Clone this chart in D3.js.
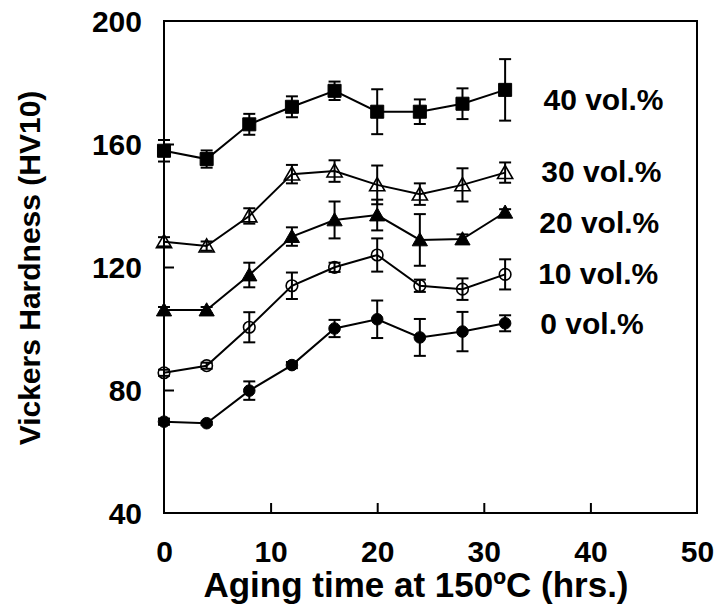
<!DOCTYPE html>
<html>
<head>
<meta charset="utf-8">
<script src="https://cdn.jsdelivr.net/npm/d3@7/dist/d3.min.js"></script>
<style>
  body { margin: 0; background: #fff; }
  text { font-family: "Liberation Sans", Arial, sans-serif; font-weight: bold; fill: #000; }
</style>
</head>
<body>
<div id="chart"></div>
<script>
// aging time (hrs.)
var times = [0, 4, 8, 12, 16, 20, 24, 28, 32];

// hardness values (HV10) per SiC content
var hv0  = [69.7, 69.2, 79.8, 88.1, 100, 103, 97.1, 99, 101.7];
var hv10 = [85.6, 87.9, 100.4, 113.9, 119.9, 123.9, 113.9, 112.8, 117.6];
var hv20 = [106, 106, 117.4, 129.9, 135.3, 136.9, 128.8, 129.1, 137.8];
var hv30 = [128.2, 126.8, 136.6, 150.2, 151.2, 146.7, 143.7, 146.7, 150.7];
var hv40 = [157.8, 155.1, 166.4, 172.1, 177.3, 170.5, 170.5, 173.1, 177.6];

// error bars (+/-)
var err0  = [1, 0.5, 3, 1, 2.8, 6.1, 6, 6.4, 2.6];
var err10 = [1, 1, 4.9, 4.3, 1.5, 5.4, 2, 3.5, 4.9];
var err20 = [1, 1, 4, 3, 6, 5, 8.4, 1.5, 1];
var err30 = [1.5, 1.5, 2.5, 3, 3.5, 6.3, 3.5, 5.4, 3.3];
var err40 = [3.5, 2.8, 3.4, 3.4, 3, 7.3, 4, 5, 10];

var seriesNames = ["0 vol.%", "10 vol.%", "20 vol.%", "30 vol.%", "40 vol.%"];
var xTicks = [0, 10, 20, 30, 40, 50];
var yTicks = [40, 80, 120, 160, 200];

var series = [
  {name: seriesNames[0], vals: hv0,  err: err0,  shape: "circle",   filled: true,  labelX: 35.3, labelY: 101.5},
  {name: seriesNames[1], vals: hv10, err: err10, shape: "circle",   filled: false, labelX: 35.1, labelY: 118},
  {name: seriesNames[2], vals: hv20, err: err20, shape: "triangle", filled: true,  labelX: 35.2, labelY: 134.5},
  {name: seriesNames[3], vals: hv30, err: err30, shape: "triangle", filled: false, labelX: 35.4, labelY: 151},
  {name: seriesNames[4], vals: hv40, err: err40, shape: "square",   filled: true,  labelX: 35.6, labelY: 174.5}
];

var W = 718, H = 607;
var margin = {top: 21, right: 21, bottom: 94, left: 164};
var width = W - margin.left - margin.right,
    height = H - margin.top - margin.bottom;

var svg = d3.select("#chart").append("svg")
    .attr("width", W)
    .attr("height", H);

var g = svg.append("g")
    .attr("transform", "translate(" + margin.left + "," + margin.top + ")");

var x = d3.scaleLinear().domain([0, 50]).range([0, width]);
var y = d3.scaleLinear().domain([40, 200]).range([height, 0]);

// frame
g.append("rect")
    .attr("width", width)
    .attr("height", height)
    .attr("fill", "none")
    .attr("stroke", "#000")
    .attr("stroke-width", 2);

// axes with inward ticks
var xAxis = g.append("g")
    .attr("transform", "translate(0," + height + ")")
    .call(d3.axisBottom(x).tickValues(xTicks).tickSizeInner(-10).tickSizeOuter(0).tickPadding(28));
var yAxis = g.append("g")
    .call(d3.axisLeft(y).tickValues(yTicks).tickSizeInner(-10).tickSizeOuter(0).tickPadding(22));

[xAxis, yAxis].forEach(function (a) {
    a.select(".domain").remove();
    a.selectAll("line").attr("stroke", "#000").attr("stroke-width", 2);
    a.selectAll("text")
        .style("font-family", "'Liberation Sans', Arial, sans-serif")
        .style("font-weight", "bold")
        .style("font-size", "30px")
        .attr("fill", "#000");
});
// no tick marks at the frame corners
xAxis.selectAll(".tick").filter(function (d) { return d === 0 || d === 50; }).select("line").remove();
yAxis.selectAll(".tick").filter(function (d) { return d === 40 || d === 200; }).select("line").remove();
xAxis.selectAll("text").attr("dy", "0.71em");
yAxis.selectAll("text").attr("dy", "0.36em");

// axis titles
svg.append("text")
    .attr("x", 416)
    .attr("y", 597)
    .attr("text-anchor", "middle")
    .style("font-size", "35px")
    .text("Aging time at 150\u00baC (hrs.)");

svg.append("text")
    .attr("transform", "translate(40," + 268 + ")rotate(-90)")
    .attr("text-anchor", "middle")
    .style("font-size", "30px")
    .text("Vickers Hardness (HV10)");

var line = d3.line()
    .x(function (d) { return x(d.t); })
    .y(function (d) { return y(d.v); });

series.forEach(function (s) {
    var pts = times.map(function (t, i) { return {t: t, v: s.vals[i], e: s.err[i]}; });
    var sg = g.append("g");

    sg.append("path")
        .datum(pts)
        .attr("d", line)
        .attr("fill", "none")
        .attr("stroke", "#000")
        .attr("stroke-width", 2);

    // error bars
    var eb = sg.selectAll(".eb").data(pts).enter().append("g");
    eb.append("line")
        .attr("x1", function (d) { return x(d.t); })
        .attr("x2", function (d) { return x(d.t); })
        .attr("y1", function (d) { return y(d.v + d.e); })
        .attr("y2", function (d) { return y(d.v - d.e); });
    eb.append("line")
        .attr("x1", function (d) { return x(d.t) - 6; })
        .attr("x2", function (d) { return x(d.t) + 6; })
        .attr("y1", function (d) { return y(d.v + d.e); })
        .attr("y2", function (d) { return y(d.v + d.e); });
    eb.append("line")
        .attr("x1", function (d) { return x(d.t) - 6; })
        .attr("x2", function (d) { return x(d.t) + 6; })
        .attr("y1", function (d) { return y(d.v - d.e); })
        .attr("y2", function (d) { return y(d.v - d.e); });
    eb.selectAll("line").attr("stroke", "#000").attr("stroke-width", 2);

    // markers
    var sym = s.shape === "circle" ? d3.symbolCircle : (s.shape === "square" ? d3.symbolSquare : d3.symbolTriangle);
    var size = s.shape === "circle" ? 105 : (s.shape === "square" ? 170 : 100);
    sg.selectAll(".m").data(pts).enter().append("path")
        .attr("transform", function (d) {
            var dy = s.shape === "triangle" ? 1.5 : 0;
            return "translate(" + x(d.t) + "," + (y(d.v) + dy) + ")";
        })
        .attr("d", d3.symbol().type(sym).size(size))
        .attr("fill", s.filled ? "#000" : "none")
        .attr("stroke", "#000")
        .attr("stroke-width", s.filled ? 1 : 1.6);

    // series label
    g.append("text")
        .attr("x", x(s.labelX))
        .attr("y", y(s.labelY))
        .attr("dy", "0.35em")
        .style("font-size", "30px")
        .text(s.name);
});
</script>
</body>
</html>
